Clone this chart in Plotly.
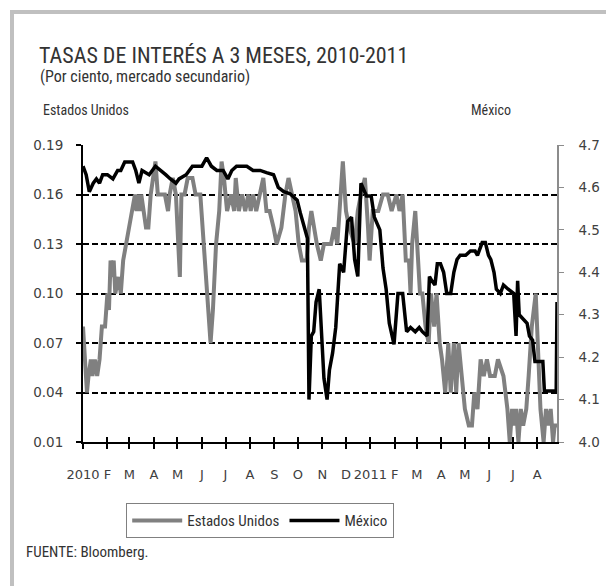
import plotly.graph_objects as go

# ---------------- data ----------------
us_dates = [
    "2010-01-01", "2010-01-03", "2010-01-06", "2010-01-08", "2010-01-11", "2010-01-13", "2010-01-16",
    "2010-01-19", "2010-01-22", "2010-01-25", "2010-01-29", "2010-02-01", "2010-02-03", "2010-02-05",
    "2010-02-07", "2010-02-09", "2010-02-11", "2010-02-15", "2010-02-18", "2010-02-21", "2010-02-25",
    "2010-03-01", "2010-03-05", "2010-03-08", "2010-03-10", "2010-03-12", "2010-03-14", "2010-03-16",
    "2010-03-19", "2010-03-22", "2010-03-25", "2010-03-28", "2010-04-03", "2010-04-06", "2010-04-15",
    "2010-04-19", "2010-04-21", "2010-04-25", "2010-04-29", "2010-05-04", "2010-05-06", "2010-05-10",
    "2010-05-14", "2010-05-20", "2010-05-24", "2010-05-30", "2010-06-12", "2010-06-15", "2010-06-19",
    "2010-06-23", "2010-06-26", "2010-06-29", "2010-07-03", "2010-07-08", "2010-07-12", "2010-07-14",
    "2010-07-18", "2010-07-22", "2010-07-26", "2010-07-30", "2010-08-02", "2010-08-05", "2010-08-09",
    "2010-08-14", "2010-08-18", "2010-08-22", "2010-08-26", "2010-08-31", "2010-09-04", "2010-09-10",
    "2010-09-15", "2010-09-19", "2010-09-23", "2010-09-28", "2010-10-02", "2010-10-06", "2010-10-12",
    "2010-10-15", "2010-10-18", "2010-10-21", "2010-10-25", "2010-10-30", "2010-11-03", "2010-11-12",
    "2010-11-16", "2010-11-20", "2010-11-24", "2010-11-27", "2010-12-01", "2010-12-05", "2010-12-12",
    "2010-12-16", "2010-12-20", "2010-12-25", "2010-12-29", "2010-12-31", "2011-01-04", "2011-01-11",
    "2011-01-17", "2011-01-23", "2011-01-28", "2011-02-03", "2011-02-07", "2011-02-11", "2011-02-15",
    "2011-02-19", "2011-02-21", "2011-02-23", "2011-02-27", "2011-03-01", "2011-03-03", "2011-03-05",
    "2011-03-08", "2011-03-12", "2011-03-16", "2011-03-19", "2011-03-23", "2011-03-26", "2011-03-30",
    "2011-04-02", "2011-04-06", "2011-04-10", "2011-04-13", "2011-04-17", "2011-04-20", "2011-04-23",
    "2011-04-27", "2011-05-01", "2011-05-06", "2011-05-10", "2011-05-13", "2011-05-17", "2011-05-21",
    "2011-05-25", "2011-05-29", "2011-06-02", "2011-06-08", "2011-06-12", "2011-06-19", "2011-06-24",
    "2011-06-27", "2011-06-30", "2011-07-03", "2011-07-05", "2011-07-08", "2011-07-11", "2011-07-14",
    "2011-07-18", "2011-07-21", "2011-07-25", "2011-07-30", "2011-08-02", "2011-08-05", "2011-08-09",
    "2011-08-12", "2011-08-15", "2011-08-18", "2011-08-21", "2011-08-23", "2011-08-26",
]
us_values = [
    0.08, 0.06, 0.04, 0.05, 0.06, 0.05, 0.06,
    0.05, 0.06, 0.08, 0.08, 0.10, 0.09, 0.12,
    0.11, 0.12, 0.10, 0.11, 0.10, 0.12, 0.13,
    0.14, 0.15, 0.16, 0.15, 0.16, 0.15, 0.16,
    0.15, 0.14, 0.14, 0.16, 0.18, 0.16, 0.16,
    0.15, 0.16, 0.17, 0.16, 0.11, 0.16, 0.16,
    0.17, 0.17, 0.16, 0.16, 0.07, 0.09, 0.13,
    0.15, 0.18, 0.17, 0.15, 0.16, 0.15, 0.17,
    0.15, 0.16, 0.15, 0.16, 0.15, 0.16, 0.15,
    0.16, 0.17, 0.15, 0.15, 0.14, 0.13, 0.14,
    0.16, 0.17, 0.16, 0.15, 0.13, 0.12, 0.12,
    0.14, 0.15, 0.14, 0.13, 0.12, 0.13, 0.13,
    0.14, 0.13, 0.16, 0.18, 0.15, 0.14, 0.13,
    0.15, 0.16, 0.17, 0.14, 0.12, 0.15, 0.15,
    0.16, 0.16, 0.15, 0.16, 0.15, 0.16, 0.12,
    0.12, 0.10, 0.13, 0.15, 0.13, 0.12, 0.10,
    0.10, 0.08, 0.07, 0.10, 0.08, 0.10, 0.07,
    0.06, 0.04, 0.07, 0.04, 0.07, 0.04, 0.07,
    0.05, 0.03, 0.02, 0.02, 0.04, 0.03, 0.06,
    0.05, 0.06, 0.05, 0.05, 0.06, 0.05, 0.03,
    0.01, 0.03, 0.02, 0.03, 0.01, 0.03, 0.02,
    0.03, 0.05, 0.08, 0.10, 0.07, 0.03, 0.01,
    0.03, 0.02, 0.03, 0.01, 0.02, 0.02,
]

mx_dates = [
    "2010-01-01", "2010-01-05", "2010-01-09", "2010-01-14", "2010-01-18", "2010-01-22", "2010-01-26",
    "2010-02-01", "2010-02-08", "2010-02-14", "2010-02-18", "2010-02-23", "2010-03-01", "2010-03-05",
    "2010-03-09", "2010-03-13", "2010-03-17", "2010-03-26", "2010-04-03", "2010-04-10", "2010-04-16",
    "2010-04-22", "2010-04-29", "2010-05-03", "2010-05-12", "2010-05-20", "2010-06-01", "2010-06-07",
    "2010-06-13", "2010-06-20", "2010-06-28", "2010-07-04", "2010-07-09", "2010-07-15", "2010-07-28",
    "2010-08-05", "2010-08-14", "2010-08-22", "2010-08-31", "2010-09-06", "2010-09-13", "2010-09-21",
    "2010-09-30", "2010-10-04", "2010-10-08", "2010-10-13", "2010-10-15", "2010-10-18", "2010-10-21",
    "2010-10-24", "2010-10-28", "2010-10-31", "2010-11-03", "2010-11-07", "2010-11-10", "2010-11-14",
    "2010-11-18", "2010-11-23", "2010-11-28", "2010-12-03", "2010-12-08", "2010-12-12", "2010-12-16",
    "2010-12-20", "2010-12-27", "2011-01-02", "2011-01-06", "2011-01-13", "2011-01-17", "2011-01-21",
    "2011-01-25", "2011-01-31", "2011-02-05", "2011-02-11", "2011-02-16", "2011-02-21", "2011-02-27",
    "2011-03-04", "2011-03-08", "2011-03-14", "2011-03-17", "2011-03-20", "2011-03-24", "2011-03-27",
    "2011-03-31", "2011-04-04", "2011-04-08", "2011-04-13", "2011-04-17", "2011-04-21", "2011-04-25",
    "2011-05-02", "2011-05-08", "2011-05-14", "2011-05-17", "2011-05-23", "2011-05-27", "2011-05-31",
    "2011-06-03", "2011-06-07", "2011-06-10", "2011-06-15", "2011-06-19", "2011-06-25", "2011-07-02",
    "2011-07-05", "2011-07-07", "2011-07-09", "2011-07-14", "2011-07-19", "2011-07-22", "2011-07-26",
    "2011-07-29", "2011-08-08", "2011-08-10", "2011-08-25", "2011-08-26",
]
mx_values = [
    4.65, 4.63, 4.59, 4.61, 4.62, 4.61, 4.63,
    4.63, 4.62, 4.64, 4.64, 4.66, 4.66, 4.66,
    4.64, 4.61, 4.64, 4.63, 4.65, 4.64, 4.63,
    4.62, 4.61, 4.62, 4.63, 4.65, 4.65, 4.67,
    4.65, 4.64, 4.64, 4.62, 4.64, 4.65, 4.65,
    4.64, 4.64, 4.635, 4.63, 4.60, 4.59, 4.585,
    4.57, 4.54, 4.51, 4.48, 4.10, 4.25, 4.26,
    4.33, 4.36, 4.26, 4.15, 4.10, 4.17, 4.21,
    4.27, 4.42, 4.40, 4.52, 4.53, 4.43, 4.39,
    4.61, 4.58, 4.58, 4.53, 4.50, 4.41, 4.36,
    4.28, 4.23, 4.35, 4.35, 4.26, 4.27, 4.26,
    4.27, 4.26, 4.25, 4.39, 4.38, 4.37, 4.42,
    4.42, 4.40, 4.35, 4.35, 4.40, 4.43, 4.44,
    4.44, 4.45, 4.45, 4.44, 4.47, 4.47, 4.44,
    4.43, 4.40, 4.36, 4.35, 4.37, 4.36, 4.35,
    4.25, 4.38, 4.30, 4.29, 4.28, 4.25, 4.24,
    4.19, 4.19, 4.12, 4.12, 4.33,
]

month_ticks = [
    "2010-01-01", "2010-02-01", "2010-03-01", "2010-04-01", "2010-05-01", "2010-06-01", "2010-07-01",
    "2010-08-01", "2010-09-01", "2010-10-01", "2010-11-01", "2010-12-01", "2011-01-01", "2011-02-01",
    "2011-03-01", "2011-04-01", "2011-05-01", "2011-06-01", "2011-07-01", "2011-08-01",
]
month_labels = ["2010", "F", "M", "A", "M", "J", "J", "A", "S", "O", "N", "D",
                "2011", "F", "M", "A", "M", "J", "J", "A"]

us_ticks = [0.01, 0.04, 0.07, 0.10, 0.13, 0.16, 0.19]
mx_ticks = [4.0, 4.1, 4.2, 4.3, 4.4, 4.5, 4.6, 4.7]

# ---------------- geometry ----------------
W, H = 606, 586
L, T, PW, PH = 83, 145, 474, 297
R = W - L - PW
B = H - T - PH


def px(x):
    return (x - L) / PW


def py(y):
    return (T + PH - y) / PH


TXT = "Liberation Sans Narrow, Roboto Condensed, Arial Narrow, sans-serif"
NUM = "DejaVu Sans, Verdana, sans-serif"
TXT_COLOR = "#333333"

fig = go.Figure()
fig.add_trace(go.Scatter(x=us_dates, y=us_values, name="Estados Unidos", mode="lines",
                         line=dict(color="#808080", width=4), yaxis="y"))
fig.add_trace(go.Scatter(x=mx_dates, y=mx_values, name="México", mode="lines",
                         line=dict(color="#000000", width=3.5), yaxis="y2"))
# helper trace so the inner tick marks of the date axis are drawn
fig.add_trace(go.Scatter(x=[month_ticks[0]], y=[us_ticks[0]], xaxis="x2", yaxis="y",
                         mode="markers", marker=dict(opacity=0), showlegend=False, hoverinfo="skip"))

fig.update_layout(
    width=W, height=H,
    margin=dict(l=L, r=R, t=T, b=B),
    paper_bgcolor="white", plot_bgcolor="white",
    showlegend=True,
    legend=dict(orientation="h", x=px(126), y=py(503), xanchor="left", yanchor="top",
                bordercolor="#808080", borderwidth=1.2, bgcolor="white",
                font=dict(family=TXT, size=15, color=TXT_COLOR), itemwidth=50,
                traceorder="normal"),
    xaxis=dict(type="date", range=["2010-01-01", "2011-08-26"], tickvals=month_ticks,
               ticktext=month_labels, showgrid=False, showline=True, linecolor="black", linewidth=2,
               ticks="outside", ticklen=5, tickwidth=1.5, tickcolor="black", zeroline=False,
               ticklabelstandoff=14, automargin=False,
               tickfont=dict(family=NUM, size=13, color="#404040")),
    xaxis2=dict(type="date", overlaying="x", matches="x", anchor="y", side="bottom",
                tickvals=month_ticks, showticklabels=False, showgrid=False, showline=False,
                ticks="inside", ticklen=5, tickwidth=1.5, tickcolor="black", zeroline=False,
                automargin=False),
    yaxis=dict(range=[0.01, 0.19], tickvals=us_ticks, tickformat=".2f", showgrid=True,
               gridcolor="black", griddash="6px,3px", gridwidth=1.5, showline=True, linecolor="black",
               linewidth=2, ticks="outside", ticklen=5, tickwidth=1.5, tickcolor="black",
               zeroline=False, ticklabelstandoff=10, automargin=False,
               tickfont=dict(family=NUM, size=13.5, color="#404040")),
    yaxis2=dict(range=[4.0, 4.7], tickvals=mx_ticks, tickformat=".1f", overlaying="y", side="right",
                anchor="x", showgrid=False, showline=True, linecolor="#8c8c8c", linewidth=1.5,
                ticks="outside", ticklen=5, tickwidth=1.2, tickcolor="#8c8c8c", zeroline=False,
                ticklabelstandoff=12, automargin=False,
                tickfont=dict(family=NUM, size=13.5, color="#404040")),
    shapes=[dict(type="rect", xref="paper", yref="paper", x0=px(12), x1=px(640), y0=py(12), y1=py(640),
                 line=dict(color="#c0c0c0", width=4), fillcolor="rgba(0,0,0,0)", layer="below")],
    annotations=[
        dict(text="TASAS DE INTERÉS A 3 MESES, 2010-2011", x=px(37), y=py(56), xref="paper", yref="paper",
             xanchor="left", yanchor="middle", showarrow=False,
             font=dict(family=TXT, size=22, color=TXT_COLOR)),
        dict(text="(Por ciento, mercado secundario)", x=px(38), y=py(76), xref="paper", yref="paper",
             xanchor="left", yanchor="middle", showarrow=False,
             font=dict(family=TXT, size=16, color=TXT_COLOR)),
        dict(text="Estados Unidos", x=px(41), y=py(110), xref="paper", yref="paper",
             xanchor="left", yanchor="middle", showarrow=False,
             font=dict(family=TXT, size=14, color=TXT_COLOR)),
        dict(text="México", x=px(513), y=py(110), xref="paper", yref="paper",
             xanchor="right", yanchor="middle", showarrow=False,
             font=dict(family=TXT, size=14, color=TXT_COLOR)),
        dict(text="FUENTE: Bloomberg.", x=px(24), y=py(552), xref="paper", yref="paper",
             xanchor="left", yanchor="middle", showarrow=False,
             font=dict(family=TXT, size=15, color=TXT_COLOR)),
    ],
)

fig.write_html("out.html", config={"displayModeBar": False},
               post_script="document.body.style.margin='0';document.body.style.overflow='hidden';")
